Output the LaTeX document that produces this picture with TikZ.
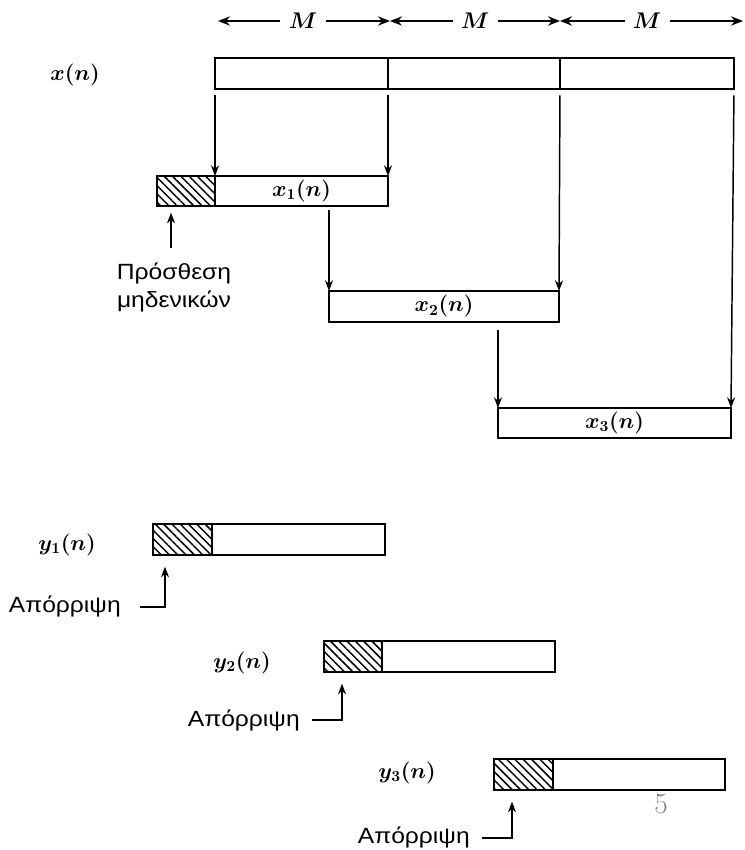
\RequirePackage{fix-cm}
\documentclass[tikz,border=0pt]{standalone}
\usepackage{fontspec}
\usepackage{amsmath}
\usetikzlibrary{arrows.meta,patterns.meta,calc}
\newfontfamily\grk[FakeStretch=1.12]{Liberation Sans}
\begin{document}
\begin{tikzpicture}[x=0.75pt,y=-0.75pt,
  seg/.style={draw,line width=1.6pt,inner sep=0pt,outer sep=0pt,anchor=north west,minimum height=23pt},
  wd/.style={minimum width=#1*0.75pt},
  hatch/.style={seg,pattern={Lines[angle=-45,distance=4.4pt,line width=1.1pt]}},
  lab/.style={font=\fontsize{16.5}{19}\selectfont\boldmath},
  mlab/.style={font=\fontsize{17}{19}\selectfont\boldmath,inner xsep=6pt,inner ysep=0pt},
  grktxt/.style={font=\grk\fontsize{16.5}{21}\selectfont,inner sep=0pt},
  arr/.style={line width=1.1pt,-{Stealth[length=8pt,width=6pt]}},
  toparr/.style={line width=1.2pt,-{Stealth[length=9pt,width=7pt]}}
]
\fill[white] (0,0) rectangle (745,850);
\useasboundingbox (0,0) rectangle (745,850);

% top dimension arrows
\node[mlab] (m1) at (303,21) {$M$};
\node[mlab] (m2) at (475,21) {$M$};
\node[mlab] (m3) at (647,21) {$M$};
\coordinate (t0) at (218,21);
\coordinate (t1) at (390,21);
\coordinate (t2) at (560,21);
\coordinate (t3) at (743,21);
\draw[toparr] (m1) -- (t0);
\draw[toparr] (m1) -- (t1);
\draw[toparr] (m2) -- (t1);
\draw[toparr] (m2) -- (t2);
\draw[toparr] (m3) -- (t2);
\draw[toparr] (m3) -- (t3);

% input signal x(n)
\node[lab] (xn) at (75,75) {$x(n)$};
\node[seg,wd=173] (b1) at (215,58) {};
\node[seg,wd=172] (b2) at (388,58) {};
\node[seg,wd=174] (b3) at (560,58) {};

% blocks
\node[hatch,wd=58,minimum height=22.5pt] (z1) at (157,176) {};
\node[seg,wd=173,minimum height=22.5pt,lab] (x1) at (215,176) {$x_1(n)$};
\node[seg,wd=230,lab] (x2) at (329,291) {$x_2(n)$};
\node[seg,wd=233,minimum height=22.5pt,lab] (x3) at (498,408) {$x_3(n)$};

\draw[arr,shorten <=5pt] (b1.south west) -- (x1.north west);
\draw[arr,shorten <=5pt] (b1.south east) -- (x1.north east);
\draw[arr,shorten <=5pt] (b3.south west) -- (x2.north east);
\draw[arr,shorten <=5pt] (b3.south east) -- (x3.north east);
\draw[arr,shorten <=3pt] (x1.south -| x2.north west) -- (x2.north west);
\draw[arr,shorten <=6pt] (x2.south -| x3.north west) -- (x3.north west);

% zero padding note
\node[grktxt,align=center] (pad) at (174,287) {Πρόσθεση\\μηδενικών};
\coordinate (p0) at (171,248);
\draw[arr,shorten >=5pt] (p0) -- (p0 |- z1.south);

% outputs
\node[lab] (y1l) at (67,545) {$y_1(n)$};
\node[hatch,wd=59] (h1) at (153,524) {};
\node[seg,wd=173] (w1) at (212,524) {};
\node[lab] (y2l) at (242,663) {$y_2(n)$};
\node[hatch,wd=58] (h2) at (324,641) {};
\node[seg,wd=173] (w2) at (382,641) {};
\node[lab] (y3l) at (407,773) {$y_3(n)$};
\node[hatch,wd=59] (h3) at (494,759) {};
\node[seg,wd=172] (w3) at (553,759) {};

% discard notes
\node[grktxt,anchor=base east] (d1) at (121,612) {Απόρριψη};
\coordinate (c1) at (140,607);
\coordinate (e1) at (165,607);
\draw[arr,shorten >=9pt] (c1) -- (e1) -- (e1 |- h1.south);

\node[grktxt,anchor=base east] (d2) at (300,726) {Απόρριψη};
\coordinate (c2) at (312,720);
\coordinate (e2) at (342,720);
\draw[arr,shorten >=9pt] (c2) -- (e2) -- (e2 |- h2.south);

\node[grktxt,anchor=base east] (d3) at (470,843) {Απόρριψη};
\coordinate (c3) at (482,838);
\coordinate (e3) at (512,838);
\draw[arr,shorten >=9pt] (c3) -- (e3) -- (e3 |- h3.south);

% page number
\node[font=\fontsize{22}{24}\selectfont,text=black!50] (pg) at (661,804) {5};
\end{tikzpicture}
\end{document}
